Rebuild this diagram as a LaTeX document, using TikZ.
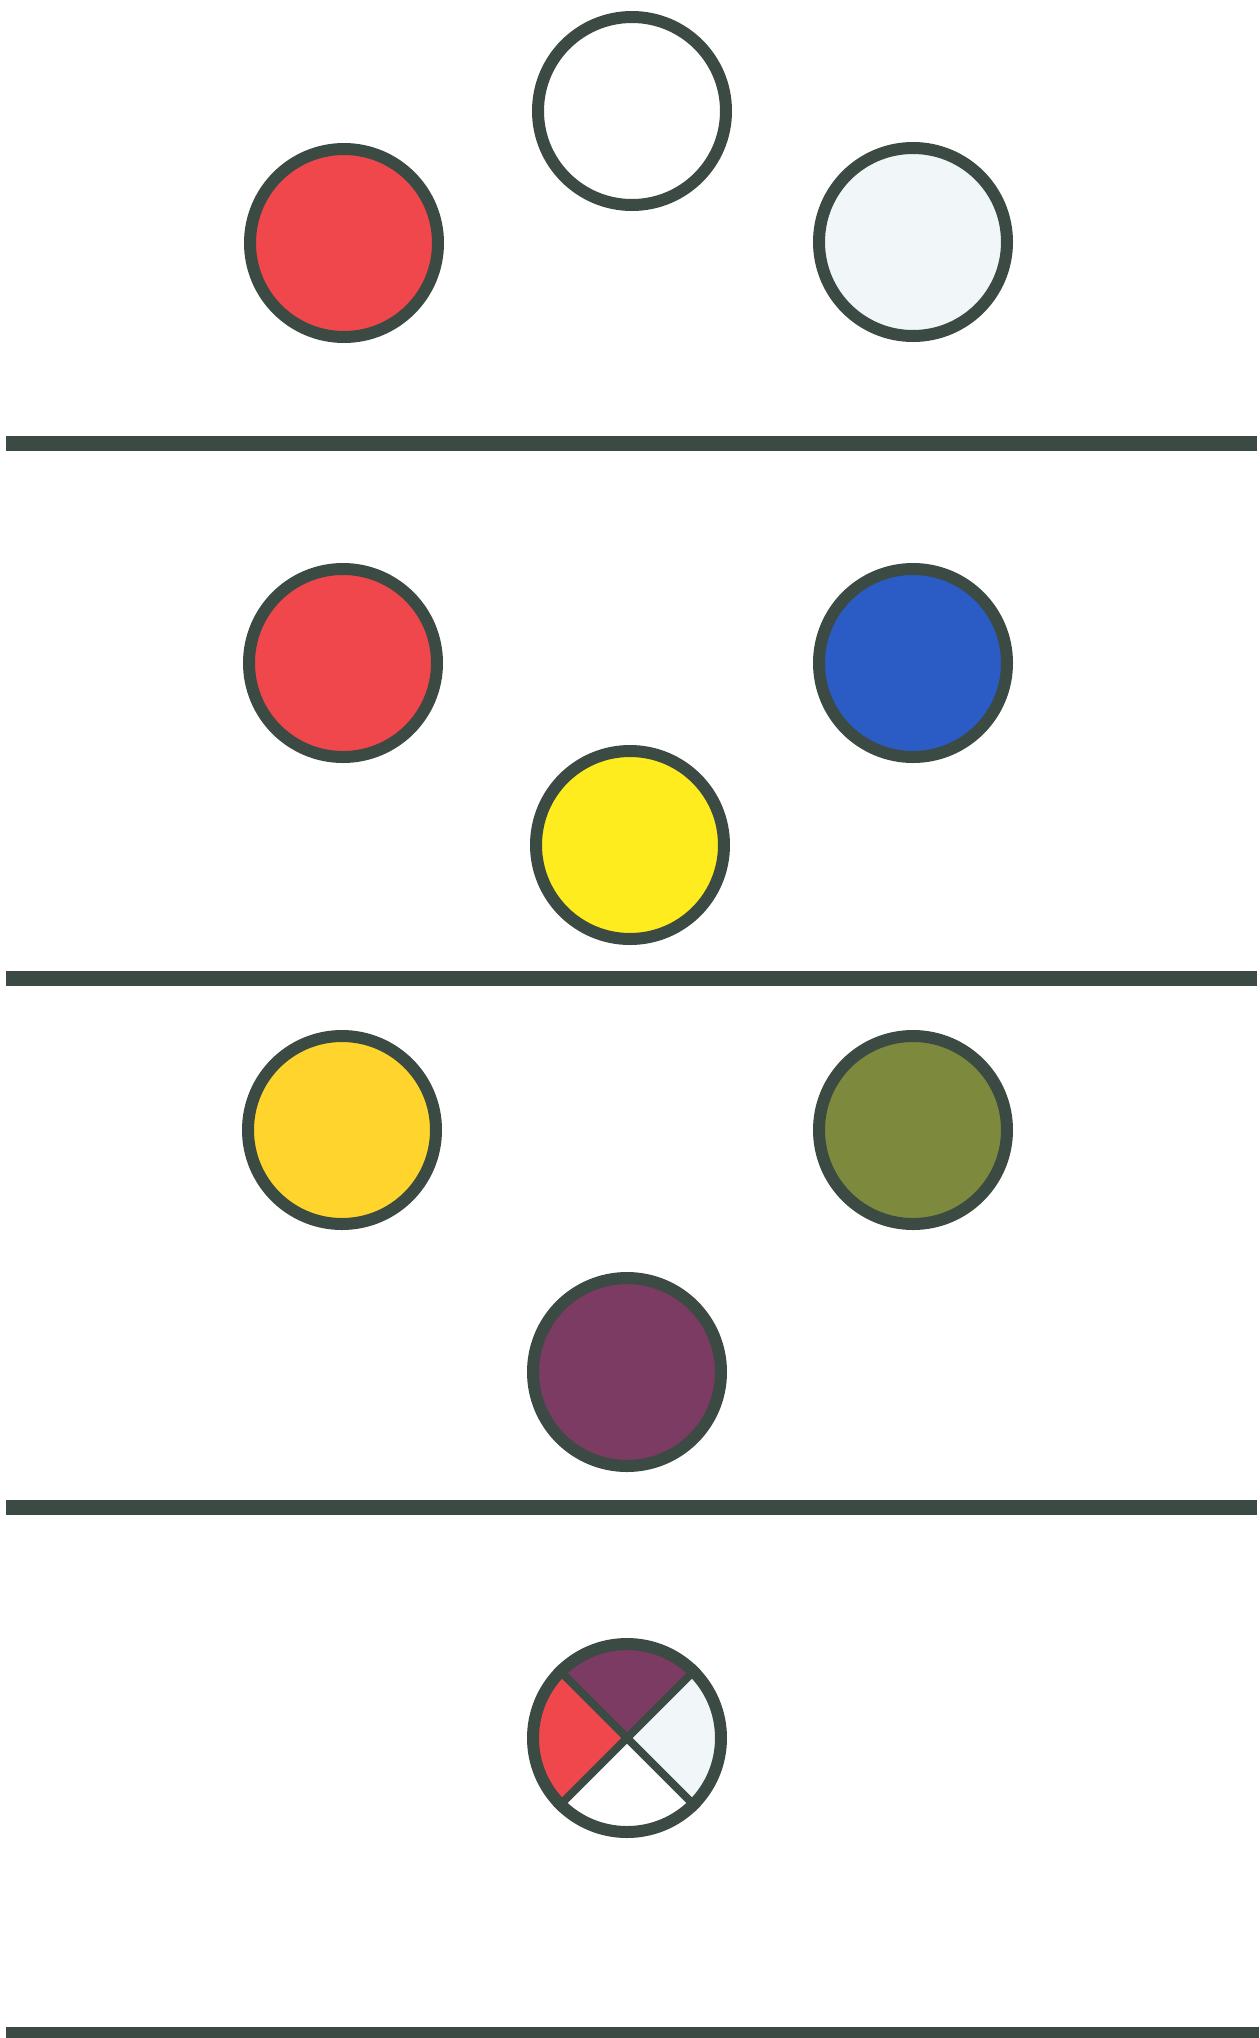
\documentclass[tikz,border=0pt]{standalone}
\definecolor{rim}{HTML}{3C4A44}
\definecolor{cred}{HTML}{F0474C}
\definecolor{cpale}{HTML}{F1F7F9}
\definecolor{cblue}{HTML}{2B5CC6}
\definecolor{cyellow}{HTML}{FFEC1E}
\definecolor{corange}{HTML}{FFD42C}
\definecolor{colive}{HTML}{7D8A3E}
\definecolor{cpurple}{HTML}{7B3B62}
\begin{document}
\begin{tikzpicture}[x=1pt,y=-1pt,
  disc/.style={circle,draw=rim,line width=12pt,minimum size=188pt,inner sep=0pt},
  rule/.style={draw=rim,line width=15pt}]
\useasboundingbox[fill=white] (0,0) rectangle (1259,2038);
% section 1
\node[disc,fill=white] (w1) at (632,111) {};
\node[disc,fill=cred] (r1) at (344,243) {};
\node[disc,fill=cpale] (p1) at (913,242) {};
% rules
\coordinate (l1a) at (6,443); \coordinate (l1b) at (1257,443);
\coordinate (l2a) at (6,978); \coordinate (l2b) at (1257,978);
\coordinate (l3a) at (6,1507); \coordinate (l3b) at (1257,1507);
\coordinate (l4a) at (6,2033); \coordinate (l4b) at (1259,2033);
\draw[rule] (l1a) -- (l1b);
\draw[rule] (l2a) -- (l2b);
\draw[rule] (l3a) -- (l3b);
\draw[rule,line width=12pt] (l4a) -- (l4b);
% section 2
\node[disc,fill=cred] (r2) at (343,663) {};
\node[disc,fill=cblue] (b2) at (913,663) {};
\node[disc,fill=cyellow] (y2) at (630,845) {};
% section 3
\node[disc,fill=corange] (o3) at (342,1130) {};
\node[disc,fill=colive] (g3) at (913,1130) {};
\node[disc,fill=cpurple] (v3) at (627,1372) {};
% section 4: quartered disc (y axis points down, so 225-315 deg is the top)
\coordinate (qc) at (627,1738);
\fill[cpurple] (qc) -- ++(225:94) arc[start angle=225,end angle=315,radius=94] -- cycle;
\fill[cred] (qc) -- ++(135:94) arc[start angle=135,end angle=225,radius=94] -- cycle;
\fill[cpale] (qc) -- ++(-45:94) arc[start angle=-45,end angle=45,radius=94] -- cycle;
\fill[white] (qc) -- ++(45:94) arc[start angle=45,end angle=135,radius=94] -- cycle;
\node[disc] (q4) at (qc) {};
\draw[rim,line width=8pt] (q4.north west) -- (q4.south east);
\draw[rim,line width=8pt] (q4.north east) -- (q4.south west);
\end{tikzpicture}
\end{document}
